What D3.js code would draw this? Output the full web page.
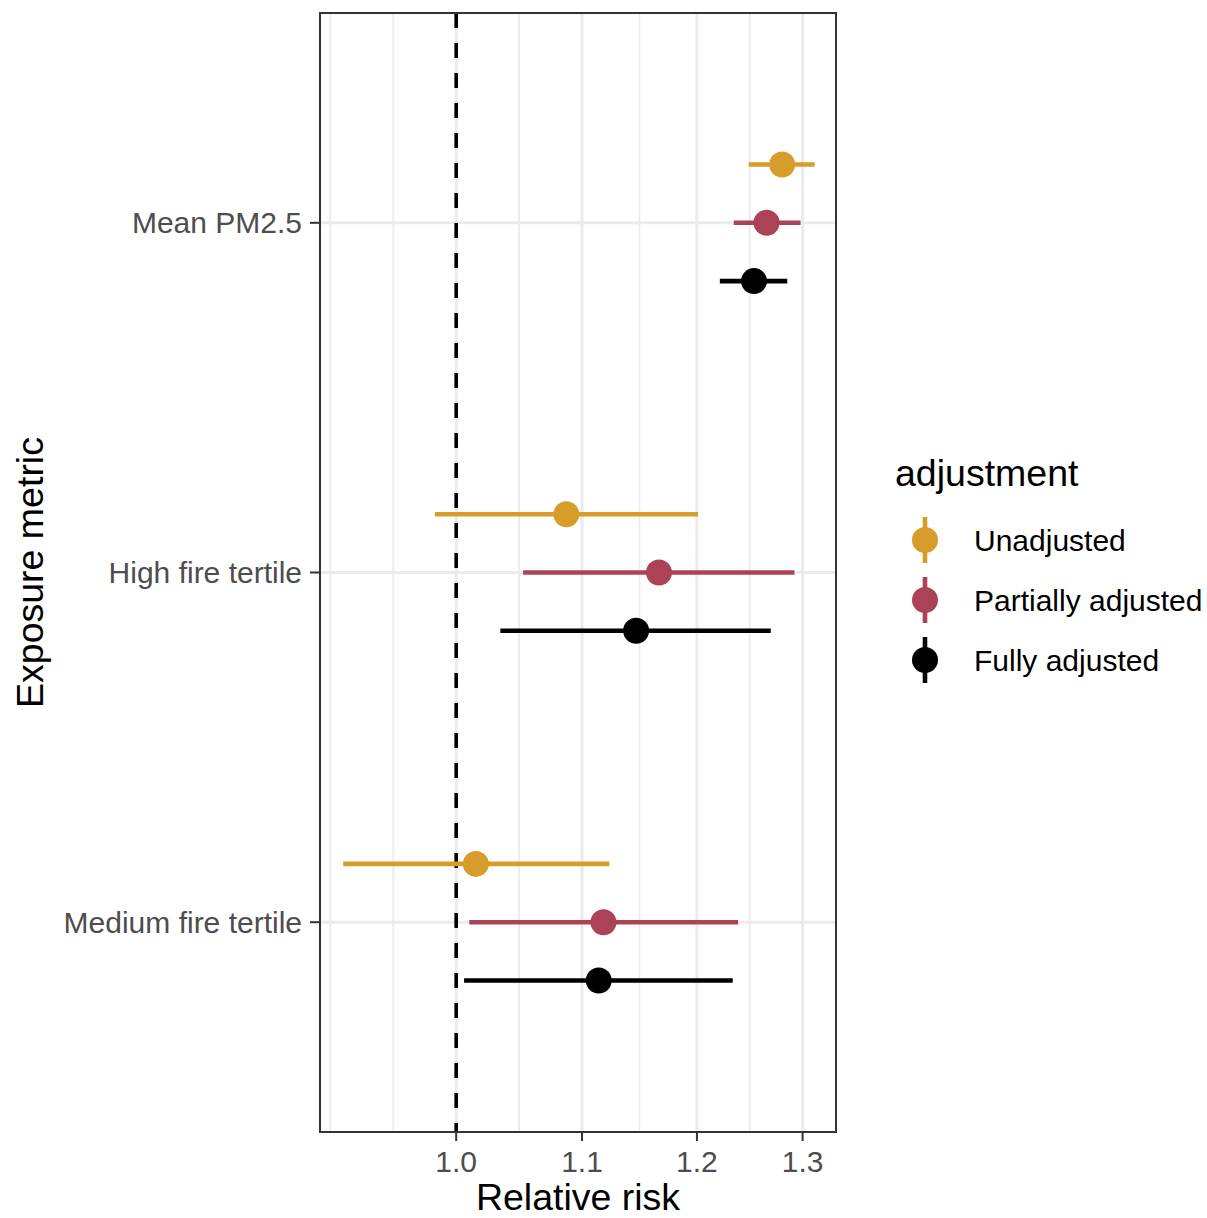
<!DOCTYPE html>
<html>
<head>
<meta charset="utf-8">
<script src="https://cdn.jsdelivr.net/npm/d3@7"></script>
<style>
  body { margin: 0; background: #fff; }
  svg { display: block; font-family: "Liberation Sans", Arial, Helvetica, sans-serif; }
</style>
</head>
<body>
<svg id="chart" width="1207" height="1218"></svg>
<script>
// exposure metrics, top to bottom
const categories = ['Mean PM2.5', 'High fire tertile', 'Medium fire tertile']
const adjustments = ['Unadjusted', 'Partially adjusted', 'Fully adjusted']
const colors = ['#D69D2A', '#AC4256', '#000000']

// relative risk and 95% CI, one value per category
const rrUnadjusted = [1.280, 1.087, 1.015]
const lowUnadjusted = [1.248, 0.984, 0.918]
const highUnadjusted = [1.312, 1.201, 1.123]

const rrPartial = [1.265, 1.166, 1.118]
const lowPartial = [1.234, 1.052, 1.010]
const highPartial = [1.298, 1.292, 1.238]

const rrFull = [1.253, 1.146, 1.114]
const lowFull = [1.221, 1.034, 1.006]
const highFull = [1.285, 1.269, 1.233]

const xTicks = [1.0, 1.1, 1.2, 1.3]
const xDomain = [0.902, 1.3333]

const est = [rrUnadjusted, rrPartial, rrFull]
const low = [lowUnadjusted, lowPartial, lowFull]
const high = [highUnadjusted, highPartial, highFull]

var rows = []
adjustments.forEach(function (adj, g) {
  categories.forEach(function (cat, i) {
    rows.push({cat: cat, group: g, rr: est[g][i], lo: low[g][i], hi: high[g][i]})
  })
})

var margin = {top: 13, left: 320}
var width = 516
var height = 1119

var svg = d3.select('#chart')
var panel = svg.append('g').attr('transform', 'translate(' + margin.left + ',' + margin.top + ')')

var x = d3.scaleLog().domain(xDomain).range([0, width])
var y = d3.scalePoint().domain(categories).range([0, height]).padding(0.6)
var dodge = function (g) { return (g - 1) * y.step() * 0.5 / 3 }

// minor breaks: midpoints in log space, plus one extended break each side
var lt = xTicks.map(Math.log)
var bd = lt[1] - lt[0]
var ext = [lt[0] - bd].concat(lt, [lt[lt.length - 1] + bd])
var minor = [ext[0]]
for (var k = 0; k < ext.length - 1; k++) minor.push((ext[k] + ext[k + 1]) / 2)
minor = minor.map(Math.exp).filter(function (v) { return v > xDomain[0] && v < xDomain[1] })

panel.selectAll('.minor').data(minor).enter().append('line')
  .attr('x1', d => x(d)).attr('x2', d => x(d))
  .attr('y1', 0).attr('y2', height)
  .attr('stroke', '#EBEBEB').attr('stroke-width', 1.8)

panel.selectAll('.majorx').data(xTicks).enter().append('line')
  .attr('x1', d => x(d)).attr('x2', d => x(d))
  .attr('y1', 0).attr('y2', height)
  .attr('stroke', '#EBEBEB').attr('stroke-width', 3)

panel.selectAll('.majory').data(categories).enter().append('line')
  .attr('x1', 0).attr('x2', width)
  .attr('y1', d => y(d)).attr('y2', d => y(d))
  .attr('stroke', '#EBEBEB').attr('stroke-width', 3)

// reference line at RR = 1
panel.append('line')
  .attr('x1', x(1)).attr('x2', x(1))
  .attr('y1', 0).attr('y2', height)
  .attr('stroke', '#000').attr('stroke-width', 3.6)
  .attr('stroke-dasharray', '15,15')

var pr = panel.selectAll('.pr').data(rows).enter().append('g')
pr.append('line')
  .attr('x1', d => x(d.lo)).attr('x2', d => x(d.hi))
  .attr('y1', d => y(d.cat) + dodge(d.group))
  .attr('y2', d => y(d.cat) + dodge(d.group))
  .attr('stroke', d => colors[d.group]).attr('stroke-width', 4.6)
pr.append('circle')
  .attr('cx', d => x(d.rr))
  .attr('cy', d => y(d.cat) + dodge(d.group))
  .attr('r', 13)
  .attr('fill', d => colors[d.group])

panel.append('rect')
  .attr('width', width).attr('height', height)
  .attr('fill', 'none').attr('stroke', '#333333').attr('stroke-width', 2)

// x axis
var xa = panel.append('g').attr('transform', 'translate(0,' + height + ')')
xa.selectAll('line').data(xTicks).enter().append('line')
  .attr('x1', d => x(d)).attr('x2', d => x(d))
  .attr('y1', 0).attr('y2', 9)
  .attr('stroke', '#333333').attr('stroke-width', 2)
xa.selectAll('text').data(xTicks).enter().append('text')
  .attr('x', d => x(d)).attr('y', 40)
  .attr('text-anchor', 'middle')
  .attr('font-size', 30).attr('fill', '#4D4D4D')
  .text(d3.format('.1f'))

// y axis
var ya = panel.append('g')
ya.selectAll('line').data(categories).enter().append('line')
  .attr('x1', -10).attr('x2', 0)
  .attr('y1', d => y(d)).attr('y2', d => y(d))
  .attr('stroke', '#333333').attr('stroke-width', 2)
ya.selectAll('text').data(categories).enter().append('text')
  .attr('x', -18).attr('y', d => y(d) + 10.5)
  .attr('text-anchor', 'end')
  .attr('font-size', 30).attr('fill', '#4D4D4D')
  .text(d => d)

// axis titles
svg.append('text')
  .attr('x', margin.left + width / 2).attr('y', 1210)
  .attr('text-anchor', 'middle').attr('font-size', 37.5)
  .text('Relative risk')
svg.append('text')
  .attr('transform', 'translate(43,' + (margin.top + height / 2) + ') rotate(-90)')
  .attr('text-anchor', 'middle').attr('font-size', 37.5)
  .text('Exposure metric')

// legend
var legend = svg.append('g').attr('transform', 'translate(895,0)')
legend.append('text')
  .attr('x', 0).attr('y', 486)
  .attr('font-size', 37.5)
  .text('adjustment')
var key = legend.selectAll('.key').data(adjustments).enter().append('g')
  .attr('transform', (d, i) => 'translate(0,' + (540 + i * 60) + ')')
key.append('line')
  .attr('x1', 30).attr('x2', 30).attr('y1', -23).attr('y2', 23)
  .attr('stroke', (d, i) => colors[i]).attr('stroke-width', 4.6)
key.append('circle')
  .attr('cx', 30).attr('cy', 0).attr('r', 13)
  .attr('fill', (d, i) => colors[i])
key.append('text')
  .attr('x', 79).attr('y', 11)
  .attr('font-size', 30)
  .text(d => d)
</script>
</body>
</html>
